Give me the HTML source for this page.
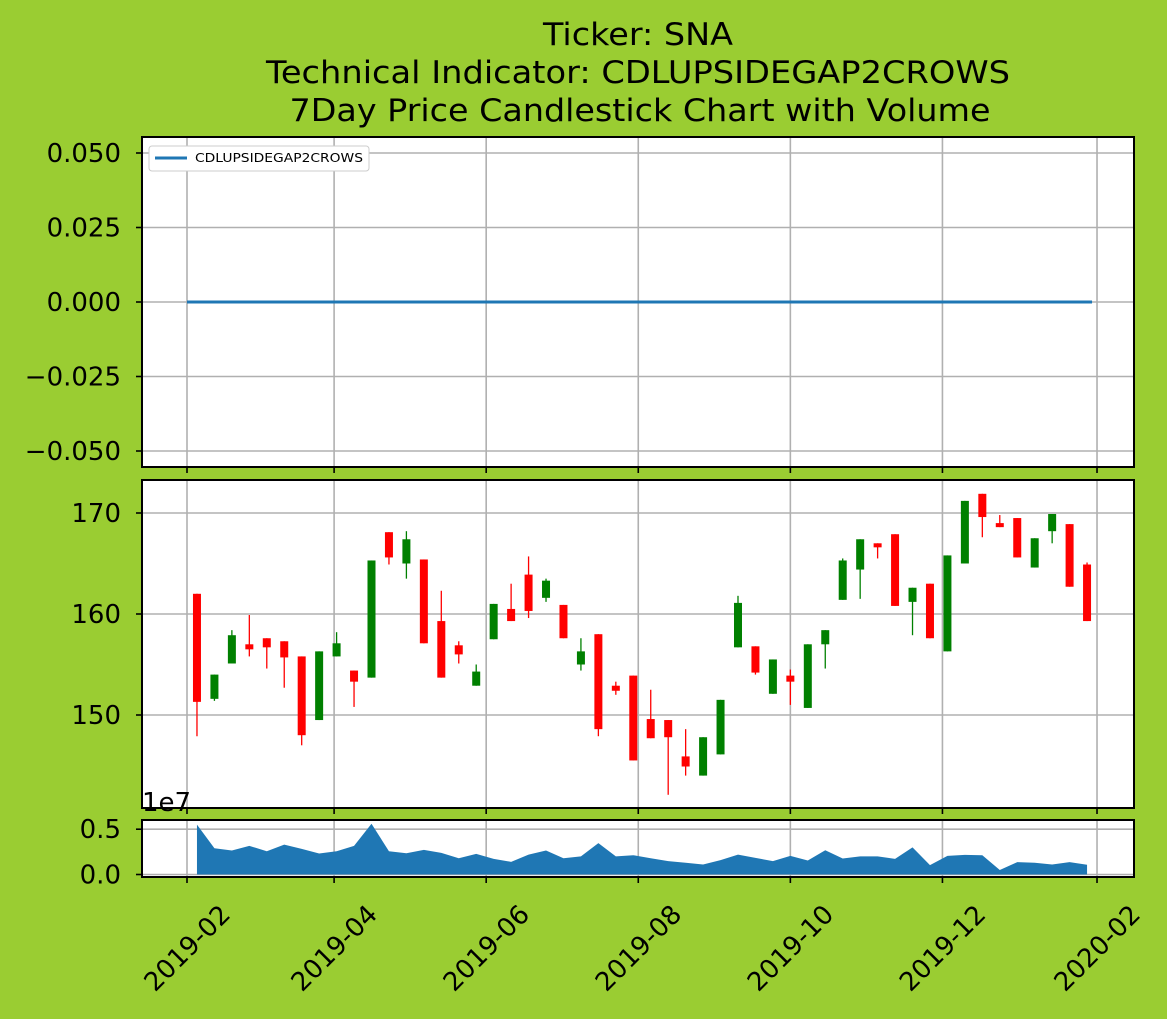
<!DOCTYPE html>
<html><head><meta charset="utf-8"><style>
html,body{margin:0;padding:0;background:#9acd32;}
svg{display:block;font-family:"DejaVu Sans","Liberation Sans",sans-serif;}
</style></head><body>
<svg id="chart" width="1167" height="1019" viewBox="0 0 1167 1019" xmlns="http://www.w3.org/2000/svg">
<rect x="0" y="0" width="1167" height="1019" fill="#9acd32"/>
<g font-size="31" text-anchor="middle" fill="#000">
<text x="638" y="45" textLength="190" lengthAdjust="spacingAndGlyphs">Ticker: SNA</text>
<text x="638" y="83" textLength="744" lengthAdjust="spacingAndGlyphs">Technical Indicator: CDLUPSIDEGAP2CROWS</text>
<text x="640" y="121" textLength="701" lengthAdjust="spacingAndGlyphs">7Day Price Candlestick Chart with Volume</text>
</g>
<rect x="142" y="137" width="992" height="330" fill="#fff"/>
<rect x="142" y="480" width="992" height="328" fill="#fff"/>
<rect x="142" y="820" width="992" height="57" fill="#fff"/>
<g id="grid"></g>
<g id="marks"></g>
<g id="frames" fill="none" stroke="#000" stroke-width="2">
<rect x="142" y="137" width="992" height="330"/>
<rect x="142" y="480" width="992" height="328"/>
<rect x="142" y="820" width="992" height="57"/>
</g>
<g id="axes" font-size="26" fill="#000"></g>
<g>
<rect x="149" y="146" width="220" height="25" fill="#fff" stroke="#ccc" rx="3"/>
<line x1="155" y1="158" x2="187" y2="158" stroke="#1f77b4" stroke-width="3"/>
<text x="195" y="162" font-size="12" textLength="168" lengthAdjust="spacingAndGlyphs">CDLUPSIDEGAP2CROWS</text>
</g>
<text x="142" y="811" font-size="26">1e7</text>
</svg>
<script>
const dates=["2019-02-05","2019-02-12","2019-02-19","2019-02-26","2019-03-05","2019-03-12","2019-03-19","2019-03-26","2019-04-02","2019-04-09","2019-04-16","2019-04-23","2019-04-30","2019-05-07","2019-05-14","2019-05-21","2019-05-28","2019-06-04","2019-06-11","2019-06-18","2019-06-25","2019-07-02","2019-07-09","2019-07-16","2019-07-23","2019-07-30","2019-08-06","2019-08-13","2019-08-20","2019-08-27","2019-09-03","2019-09-10","2019-09-17","2019-09-24","2019-10-01","2019-10-08","2019-10-15","2019-10-22","2019-10-29","2019-11-05","2019-11-12","2019-11-19","2019-11-26","2019-12-03","2019-12-10","2019-12-17","2019-12-24","2019-12-31","2020-01-07","2020-01-14","2020-01-21","2020-01-28"];
const opens=[162.0,151.6,155.1,157.0,157.6,157.3,155.8,149.5,155.8,154.4,153.7,168.1,165.0,165.4,159.3,156.9,152.9,157.5,160.5,163.9,161.6,160.9,155.0,158.0,152.9,153.9,149.6,149.5,145.9,144.0,146.1,156.7,156.8,152.1,153.9,150.7,157.0,161.4,164.4,167.0,167.9,161.2,163.0,156.3,165.0,171.9,169.0,169.5,164.6,168.2,168.9,164.9];
const closes=[151.3,154.0,157.9,156.5,156.7,155.7,148.0,156.3,157.1,153.3,165.3,165.6,167.4,157.1,153.7,156.0,154.3,161.0,159.3,160.3,163.3,157.6,156.3,148.6,152.4,145.5,147.7,147.8,144.9,147.8,151.5,161.1,154.2,155.5,153.3,157.0,158.4,165.3,167.4,166.6,160.8,162.6,157.6,165.8,171.2,169.6,168.6,165.6,167.5,169.9,162.7,159.3];
const highs=[162.0,154.0,158.4,159.9,157.6,157.3,155.8,156.3,158.2,154.4,165.3,168.1,168.2,165.4,162.3,157.3,155.0,161.0,163.0,165.7,163.5,160.9,157.6,158.0,153.3,153.9,152.5,149.5,148.6,147.8,151.5,161.8,156.8,155.5,154.5,157.0,158.4,165.5,167.4,167.0,167.9,162.6,163.0,165.8,171.2,171.9,169.8,169.5,167.5,169.9,168.9,165.1];
const lows=[147.9,151.4,155.1,155.8,154.6,152.7,147.0,149.5,155.8,150.8,153.7,164.9,163.5,157.1,153.7,155.1,152.9,157.5,159.3,159.6,161.2,157.6,154.4,147.9,152.0,145.5,147.7,142.1,144.0,144.0,146.1,156.7,154.0,152.1,151.0,150.7,154.6,161.4,161.5,165.5,160.8,157.9,157.6,156.3,165.0,167.6,168.6,165.6,164.6,167.0,162.7,159.3];
const volumes=[0.55,0.29,0.265,0.316,0.257,0.33,0.283,0.232,0.257,0.316,0.56,0.257,0.235,0.272,0.239,0.18,0.228,0.173,0.14,0.22,0.265,0.18,0.2,0.346,0.2,0.213,0.18,0.147,0.13,0.11,0.158,0.22,0.184,0.147,0.206,0.154,0.268,0.176,0.2,0.2,0.173,0.3,0.103,0.206,0.217,0.213,0.05,0.136,0.13,0.11,0.136,0.107];
const indicatorStart="2019-02-01", indicatorEnd="2020-01-30";
const indicatorValue=0;
const xTickLabels=["2019-02","2019-04","2019-06","2019-08","2019-10","2019-12","2020-02"];
const indTicks=[0.05,0.025,0,-0.025,-0.05];
const indTickLabels=["0.050","0.025","0.000","\u22120.025","\u22120.050"];
const priceTicks=[170,160,150];
const volTicks=[0.5,0.0];
const volTickLabels=["0.5","0.0"];

const NS="http://www.w3.org/2000/svg";
const T0=Date.UTC(2019,1,1);
function dayOf(s){const p=s.split("-").map(Number);return (Date.UTC(p[0],p[1]-1,p[2]||1)-T0)/86400000;}
function xS(s){return 187+dayOf(s)*2.4932;}
function yInd(v){return 302-v*2980;}
function yP(p){return 513+(170-p)*10.1;}
function yV(v){return 874.5-v*90.6;}
function mk(tag,attrs,parent){const e=document.createElementNS(NS,tag);for(const k in attrs)e.setAttribute(k,attrs[k]);parent.appendChild(e);return e;}
const grid=document.getElementById("grid"),marks=document.getElementById("marks"),axes=document.getElementById("axes");
const gc="#b0b0b0";
xTickLabels.forEach(l=>{const x=xS(l);
 [[137,467],[480,808],[820,877]].forEach(r=>{const g=mk("line",{x1:x,x2:x,y1:r[0],y2:r[1],stroke:gc,"stroke-width":1.6},grid);
 
 
 mk("line",{x1:x,x2:x,y1:r[1],y2:r[1]+6,stroke:"#000","stroke-width":1.6},axes);});
 const t=mk("text",{x:x,y:957,"text-anchor":"middle",transform:`rotate(-45 ${x} 948)`},axes);t.textContent=l;
 
 
});
function hgrid(y,x1,x2,label){const g=mk("line",{x1:x1,x2:x2,y1:y,y2:y,stroke:gc,"stroke-width":1.6},grid);
 
 
 mk("line",{x1:136,x2:142,y1:y,y2:y,stroke:"#000","stroke-width":1.6},axes);
 const t=mk("text",{x:121,y:y+9,"text-anchor":"end"},axes);t.textContent=label;
 
 }
indTicks.forEach((v,i)=>hgrid(yInd(v),142,1134,indTickLabels[i]));
priceTicks.forEach(v=>hgrid(yP(v),142,1134,String(v)));
volTicks.forEach((v,i)=>hgrid(yV(v),142,1134,volTickLabels[i]));
const il=mk("line",{x1:xS(indicatorStart),x2:xS(indicatorEnd),y1:yInd(indicatorValue),y2:yInd(indicatorValue),stroke:"#1f77b4","stroke-width":3},marks);


dates.forEach((d,i)=>{const x=xS(d),up=closes[i]>=opens[i],c=up?"#008000":"#ff0000";
 const g=mk("g",{},marks);
 
 
 mk("line",{x1:x,x2:x,y1:yP(highs[i]),y2:yP(lows[i]),stroke:c,"stroke-width":1.3},g);
 const top=yP(Math.max(opens[i],closes[i])),bot=yP(Math.min(opens[i],closes[i]));
 mk("rect",{x:x-4,y:top,width:8,height:Math.max(bot-top,1.5),fill:c},g);
});
let dp=`M${xS(dates[0])},${yV(0)}`;
dates.forEach((d,i)=>{dp+=` L${xS(d)},${yV(volumes[i])}`;});
dp+=` L${xS(dates[dates.length-1])},${yV(0)} Z`;
const va=mk("path",{d:dp,fill:"#1f77b4"},marks);


</script>
</body></html>
